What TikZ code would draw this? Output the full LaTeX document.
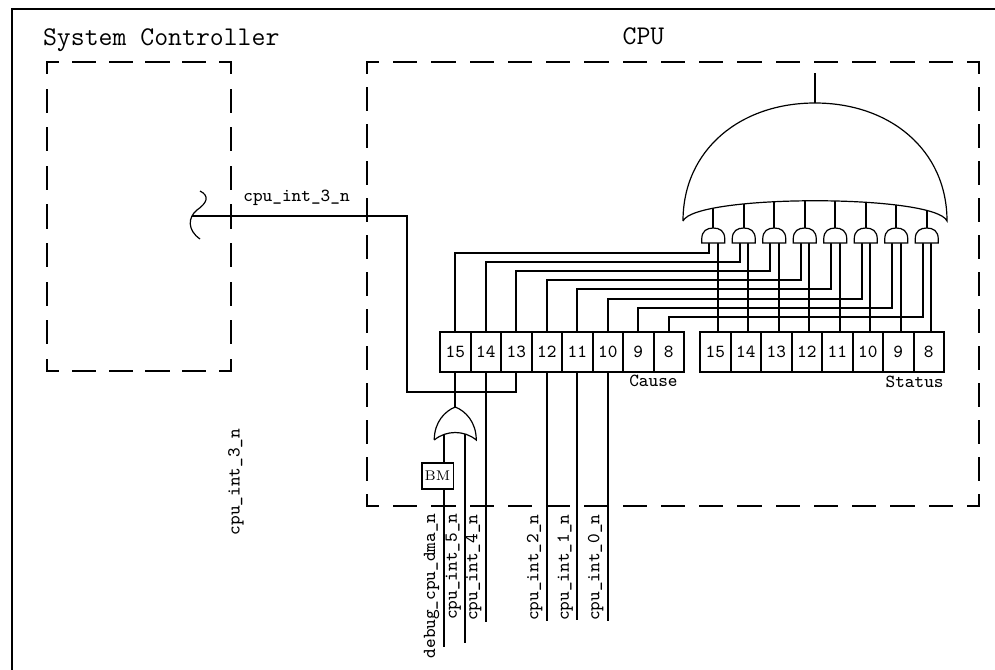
\documentclass[tikz,border=0pt]{standalone}
\usepackage{fontspec}

\newcommand\sigfont{\ttfamily\fontsize{9.2}{10}\selectfont}
\newcommand\headfont{\ttfamily\fontsize{13.5}{15}\selectfont}

\tikzset{
  wire/.style={line width=1pt},
  frame/.style={line width=1.1pt, line cap=rect},
  gate/.style={line width=0.6pt, fill=white},
  cell/.style={draw, line width=1pt, minimum width=15.25pt, minimum height=20pt,
    inner sep=0pt, font=\sigfont},
  sig/.style={inner sep=0pt, font=\sigfont},
  sigv/.style={sig, rotate=90, anchor=south east},
}

\begin{document}
\begin{tikzpicture}[x=0.5pt, y=-0.5pt]
    % one side of a dashed block, half dashes at both ends
    \def\dside#1#2#3#4{%
        \pgfmathsetmacro\dlen{abs(#3-#1)+abs(#4-#2)}%
        \pgfmathsetlengthmacro\doff{(\dlen/round(\dlen/38)-22)/2*1pt}%
        \draw[frame, dash pattern=on 11pt off \doff, dash phase=5.5pt] (#1,#2) -- (#3,#4);}
    \def\dbox#1#2#3#4{%
        \dside{#1}{#2}{#3}{#2}\dside{#3}{#2}{#3}{#4}%
        \dside{#3}{#4}{#1}{#4}\dside{#1}{#4}{#1}{#2}}
    \useasboundingbox (0,0) rectangle (995,669);
    \clip (0,0) rectangle (995,669);
    \draw[line width=1pt] (12,9) rectangle (1010,690);

    % titles and dashed blocks
    \node[anchor=base west, font=\headfont] (sctitle) at (36,45.5) {System Controller};
    \node[anchor=base, font=\headfont] (cputitle) at (643.5,44.5) {CPU};
    \dbox{47}{62}{231}{371}
    \dbox{367}{62}{979}{506}

    % Cause and Status registers
    \foreach \b [count=\i from 0] in {15,14,...,8} {
        \node[cell] (ca\b) at (455.25+30.5*\i,352) {\b};
        \node[cell] (st\b) at (715.25+30.5*\i,352) {\b};
    }
    \node[sig, anchor=base east] (cause) at (678,386) {Cause};
    \node[sig, anchor=base east] (status) at (944,387) {Status};

    % one AND gate per bit
    \foreach \b [count=\i from 0] in {15,14,...,8} {
        \pgfmathsetmacro\gx{713.25+30.5*\i}
        \coordinate (gl\b) at (\gx-4.25,243);
        \coordinate (gr\b) at (\gx+4.25,243);
        \coordinate (go\b) at (\gx,228);
        \draw[wire] (ca\b.north) |- (\gx-4.25,253+9.1*\i) -- (gl\b);
        \draw[wire] (gr\b |- st\b.north) -- (gr\b);
        \draw[wire] (go\b) -- ++(0,-40);
        \draw[gate] (\gx-11.5,243) -- (\gx+11.5,243) -- (\gx+11.5,239)
            .. controls (\gx+11.5,231) and (\gx+6.5,228) .. (go\b)
            .. controls (\gx-6.5,228) and (\gx-11.5,231) .. (\gx-11.5,239) -- cycle;
    }

    % big OR of the gate outputs
    \draw[gate] (683,221) .. controls (683,150) and (740,103) .. (815,103) coordinate (bigtop)
        .. controls (890,103) and (947,150) .. (947,221)
        .. controls (935,194) and (695,194) .. (683,221);
    \draw[wire] (bigtop) -- ++(0,-30);

    % interrupt 5 / debug OR gate
    \coordinate (orl) at (443.75,430);
    \coordinate (orr) at (465.25,430);
    \coordinate (ortop) at (455.25,407);
    \draw[wire] (ca15.south) -- (ortop);
    \node[draw, line width=0.8pt, minimum width=15.8pt, minimum height=13.2pt, inner sep=0pt,
        font=\rmfamily\fontsize{7}{8}\selectfont] (bm) at (437.5,476) {BM};
    \draw[wire] (orl) -- (orl |- bm.north);
    \draw[wire] (orl |- bm.south) -- (443.75,647) coordinate (dma);
    \draw[wire] (orr) -- (465.25,643) coordinate (i5);
    \draw[gate] (434.25,440) .. controls (434.25,422) and (445,411) .. (ortop)
        .. controls (465.5,411) and (476.25,422) .. (476.25,440)
        .. controls (464.25,430) and (446.25,430) .. (434.25,440);

    % interrupt lines
    \draw[wire] (ca14.south) -- ++(0,249) coordinate (i4);
    \draw[wire] (ca12.south) -- ++(0,248) coordinate (i2);
    \draw[wire] (ca11.south) -- ++(0,247) coordinate (i1);
    \draw[wire] (ca10.south) -- ++(0,248) coordinate (i0);
    \path (orl) ++(-4,83) node[sigv] {debug\_cpu\_dma\_n};
    \path (orr) ++(-4,83) node[sigv] {cpu\_int\_5\_n};
    \path (ca14.south) ++(-4,141) node[sigv] {cpu\_int\_4\_n};
    \path (ca12.south) ++(-4,141) node[sigv] {cpu\_int\_2\_n};
    \path (ca11.south) ++(-4,141) node[sigv] {cpu\_int\_1\_n};
    \path (ca10.south) ++(-4,141) node[sigv] {cpu\_int\_0\_n};

    % cpu_int_3_n from the system controller
    \draw[line width=0.6pt] (200,191) .. controls (210,196) and (207,203) .. (197,210)
        .. controls (188,217) and (187,230) .. (200,239);
    \coordinate (sq) at (192,216);
    \draw[wire] (sq) -| (407,392) -| (ca13.south);
    \node[sig, anchor=base west] (int3) at (243,201.5) {cpu\_int\_3\_n};
    \node[sig, rotate=90] (int3v) at (236,482) {cpu\_int\_3\_n};
\end{tikzpicture}
\end{document}
